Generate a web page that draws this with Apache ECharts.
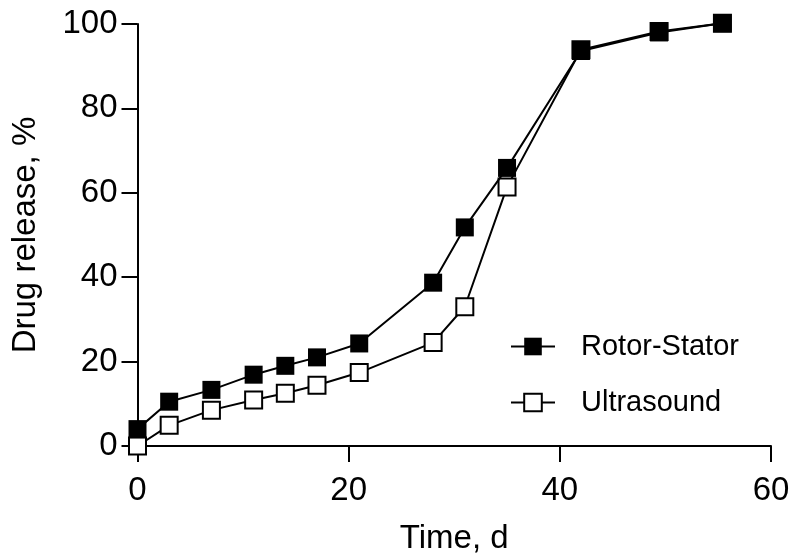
<!DOCTYPE html>
<html>
<head>
<meta charset="utf-8">
<script src="https://cdn.jsdelivr.net/npm/echarts@6/dist/echarts.min.js"></script>
<style>html,body{margin:0;padding:0;background:#fff}#c{width:791px;height:557px}</style>
</head>
<body>
<div id="c"></div>
<script>
const timeDays = [0, 3, 7, 11, 14, 17, 21, 28, 31, 35, 42, 49.4, 55.4];
const rotorStator = [4.0, 10.5, 13.3, 16.9, 19.0, 21.0, 24.3, 38.7, 51.8, 65.9, 93.6, 98.0, 100.2];
const ultrasound = [0.0, 4.9, 8.5, 10.9, 12.5, 14.4, 17.4, 24.5, 33.0, 61.4, 93.9, 98.2, 100.2];
const xTicks = [0, 20, 40, 60];
const yTicks = [0, 20, 40, 60, 80, 100];
const seriesNames = ['Rotor-Stator', 'Ultrasound'];

const font = 'Liberation Sans, Arial, sans-serif';
const chart = echarts.init(document.getElementById('c'), null, {renderer: 'canvas'});
chart.setOption({
  animation: false,
  backgroundColor: '#fff',
  grid: {left: 137.5, right: 20, top: 24, bottom: 111, outerBoundsMode: 'none', containLabel: false},
  legend: {
    orient: 'vertical', left: 505, top: 327,
    itemWidth: 44, itemHeight: 22, itemGap: 27,
    textStyle: {fontFamily: font, fontSize: 29, color: '#000', padding: [0, 0, 0, 21]},
    data: seriesNames
  },
  xAxis: {
    type: 'value', min: xTicks[0], max: xTicks[xTicks.length - 1], interval: 20,
    name: 'Time, d', nameLocation: 'middle', nameGap: 76,
    nameTextStyle: {fontFamily: font, fontSize: 33, color: '#000'},
    axisLine: {lineStyle: {color: '#000', width: 2}},
    axisTick: {length: 16, lineStyle: {color: '#000', width: 2}},
    axisLabel: {margin: 28, fontFamily: font, fontSize: 33, color: '#000'},
    splitLine: {show: false}
  },
  yAxis: {
    type: 'value', min: yTicks[0], max: yTicks[yTicks.length - 1], interval: 20,
    name: 'Drug release, %', nameLocation: 'middle', nameGap: 95,
    nameTextStyle: {fontFamily: font, fontSize: 33, color: '#000'},
    axisLine: {lineStyle: {color: '#000', width: 2}},
    axisTick: {length: 16, lineStyle: {color: '#000', width: 2}},
    axisLabel: {margin: 20, fontFamily: font, fontSize: 33, color: '#000'},
    splitLine: {show: false}
  },
  series: [
    {
      name: seriesNames[0], type: 'line', z: 3, clip: false,
      data: timeDays.map((t, i) => [t, rotorStator[i]]),
      symbol: 'rect', symbolSize: 18,
      lineStyle: {color: '#000', width: 2},
      itemStyle: {color: '#000', borderColor: '#000', borderWidth: 0}
    },
    {
      name: seriesNames[1], type: 'line', z: 2, clip: false,
      data: timeDays.map((t, i) => [t, ultrasound[i]]),
      symbol: 'rect', symbolSize: 17,
      lineStyle: {color: '#000', width: 2},
      itemStyle: {color: '#fff', borderColor: '#000', borderWidth: 2}
    }
  ]
});
</script>
</body>
</html>
